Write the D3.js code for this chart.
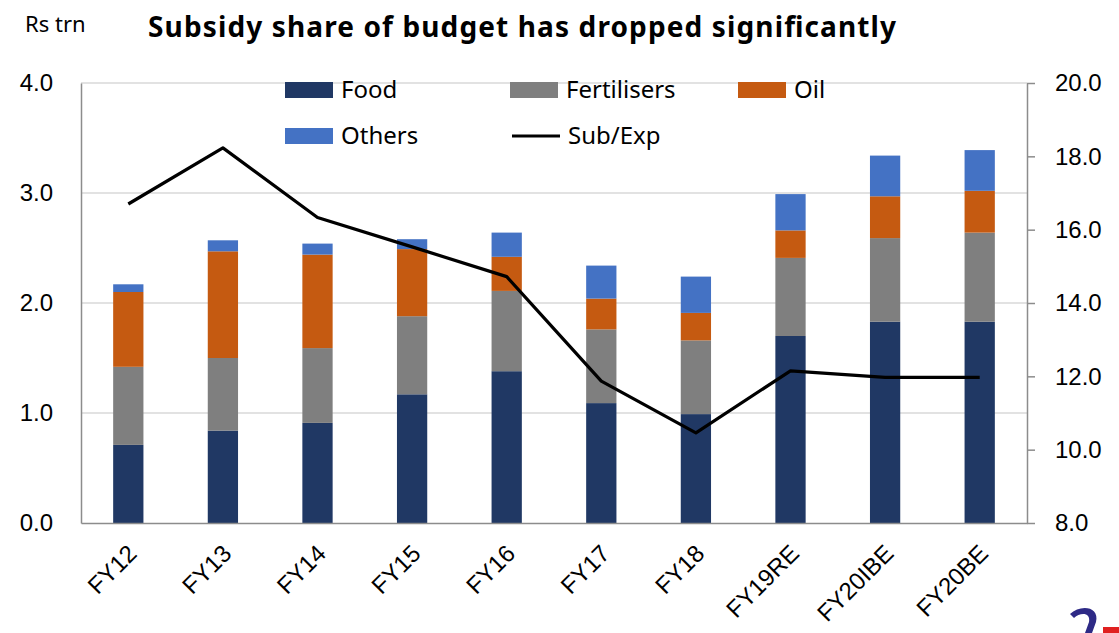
<!DOCTYPE html>
<html>
<head>
<meta charset="utf-8">
<script src="https://cdn.jsdelivr.net/npm/d3@7.9.0/dist/d3.min.js"></script>
<style>
  body { margin: 0; background: #fff; }
  svg { display: block; font-family: "Noto Sans", "Open Sans", sans-serif; }
</style>
</head>
<body>
<svg id="chart" width="1119" height="633"></svg>
<script>
// data (Rs trn, and % for Sub/Exp)
const years = ['FY12', 'FY13', 'FY14', 'FY15', 'FY16', 'FY17', 'FY18', 'FY19RE', 'FY20IBE', 'FY20BE'];
const food = [0.71, 0.84, 0.91, 1.17, 1.38, 1.09, 0.99, 1.70, 1.83, 1.83];
const fertilisers = [0.71, 0.66, 0.68, 0.71, 0.73, 0.67, 0.67, 0.71, 0.76, 0.81];
const oil = [0.68, 0.97, 0.85, 0.61, 0.31, 0.28, 0.25, 0.25, 0.38, 0.38];
const others = [0.07, 0.10, 0.10, 0.09, 0.22, 0.30, 0.33, 0.33, 0.37, 0.37];
const subExp = [16.70, 18.23, 16.33, 15.53, 14.72, 11.87, 10.46, 12.15, 11.97, 11.97];

const leftTicks = [0, 1, 2, 3, 4];
const rightTicks = [8, 10, 12, 14, 16, 18, 20];

const seriesKeys = ['Food', 'Fertilisers', 'Oil', 'Others'];
const colors = d3.scaleOrdinal()
  .domain(seriesKeys)
  .range(['#203864', '#7f7f7f', '#c55a11', '#4472c4']);

const svg = d3.select('#chart');
const plotLeft = 81, plotRight = 1027, plotTop = 83, plotBottom = 523;

const x = d3.scaleBand().domain(years).range([plotLeft, plotRight]).paddingInner(0.68).paddingOuter(0.34);
const y = d3.scaleLinear().domain([0, 4]).range([plotBottom, plotTop]);
const y2 = d3.scaleLinear().domain([8, 20]).range([plotBottom, plotTop]);

const rows = years.map((yr, i) => ({
  year: yr, Food: food[i], Fertilisers: fertilisers[i], Oil: oil[i], Others: others[i]
}));
const stacked = d3.stack().keys(seriesKeys)(rows);

// gridlines
svg.append('g')
  .selectAll('line')
  .data(leftTicks.filter(d => d > 0))
  .enter()
  .append('line')
  .attr('x1', plotLeft).attr('x2', plotRight)
  .attr('y1', d => y(d)).attr('y2', d => y(d))
  .attr('stroke', '#d9d9d9')
  .attr('stroke-width', 1.5);

// bars
svg.append('g')
  .selectAll('g')
  .data(stacked)
  .enter()
  .append('g')
  .attr('fill', d => colors(d.key))
  .selectAll('rect')
  .data(d => d)
  .enter()
  .append('rect')
  .attr('x', d => x(d.data.year))
  .attr('width', x.bandwidth())
  .attr('y', d => y(d[1]))
  .attr('height', d => y(d[0]) - y(d[1]));

// left axis
const leftAxis = svg.append('g')
  .attr('transform', `translate(${plotLeft},0)`)
  .call(d3.axisLeft(y).tickValues(leftTicks).tickFormat(d3.format('.1f')).tickSize(0).tickPadding(28));
leftAxis.select('.domain').attr('stroke', '#8c8c8c').attr('stroke-width', 1.5);
leftAxis.selectAll('text').attr('font-size', 24).attr('fill', '#000');

// right axis
const rightAxis = svg.append('g')
  .attr('transform', `translate(${plotRight},0)`)
  .call(d3.axisRight(y2).tickValues(rightTicks).tickFormat(d3.format('.1f')).tickSizeInner(8).tickSizeOuter(0).tickPadding(20));
rightAxis.select('.domain').attr('stroke', '#8c8c8c').attr('stroke-width', 1.5);
rightAxis.selectAll('.tick line').attr('stroke', '#8c8c8c').attr('stroke-width', 1.5);
rightAxis.selectAll('text').attr('font-size', 24).attr('fill', '#000');

// bottom axis
const bottomAxis = svg.append('g')
  .attr('transform', `translate(0,${plotBottom})`)
  .call(d3.axisBottom(x).tickSize(0).tickPadding(0));
bottomAxis.select('.domain').attr('stroke', '#8c8c8c').attr('stroke-width', 1.5);
bottomAxis.selectAll('text')
  .attr('font-size', 24)
  .attr('fill', '#000')
  .attr('text-anchor', 'end')
  .attr('dy', 0)
  .attr('transform', 'translate(10,32) rotate(-45)');

// Sub/Exp line
const line = d3.line()
  .x((d, i) => x(years[i]) + x.bandwidth() / 2)
  .y(d => y2(d));
svg.append('path')
  .datum(subExp)
  .attr('d', line)
  .attr('fill', 'none')
  .attr('stroke', '#000')
  .attr('stroke-width', 3.2)
  .attr('stroke-linejoin', 'round');

// legend
const legendItems = [
  { label: 'Food', type: 'rect', lx: 285, ly: 90 },
  { label: 'Fertilisers', type: 'rect', lx: 510, ly: 90 },
  { label: 'Oil', type: 'rect', lx: 738, ly: 90 },
  { label: 'Others', type: 'rect', lx: 285, ly: 136 },
  { label: 'Sub/Exp', type: 'line', lx: 512, ly: 136 }
];
const legend = svg.append('g');
legendItems.forEach(d => {
  const g = legend.append('g').attr('transform', `translate(${d.lx},${d.ly})`);
  if (d.type === 'rect') {
    g.append('rect').attr('x', 0).attr('y', -8).attr('width', 48).attr('height', 16)
      .attr('fill', colors(d.label));
  } else {
    g.append('line').attr('x1', 0).attr('x2', 48).attr('y1', 0).attr('y2', 0)
      .attr('stroke', '#000').attr('stroke-width', 3.2);
  }
  g.append('text').attr('x', 56).attr('y', 0).attr('dy', '0.35em')
    .attr('font-size', 24).attr('fill', '#000').text(d.label);
});

// titles
svg.append('text').attr('x', 25).attr('y', 32).attr('font-size', 22).attr('fill', '#000').text('Rs trn');
svg.append('text').attr('x', 148).attr('y', 37).attr('font-size', 28).attr('font-weight', 'bold')
  .attr('fill', '#000').attr('textLength', 748).text('Subsidy share of budget has dropped significantly');

// logo fragment in the corner
svg.append('path')
  .attr('d', 'M1070,614 C1080,604 1100,606 1096,622 L1092,633 L1085,633 L1089,622 C1091,612 1080,612 1074,618 Z')
  .attr('fill', '#2e2a86');
svg.append('rect').attr('x', 1103).attr('y', 627).attr('width', 16).attr('height', 6).attr('fill', '#e02020');
</script>
</body>
</html>
